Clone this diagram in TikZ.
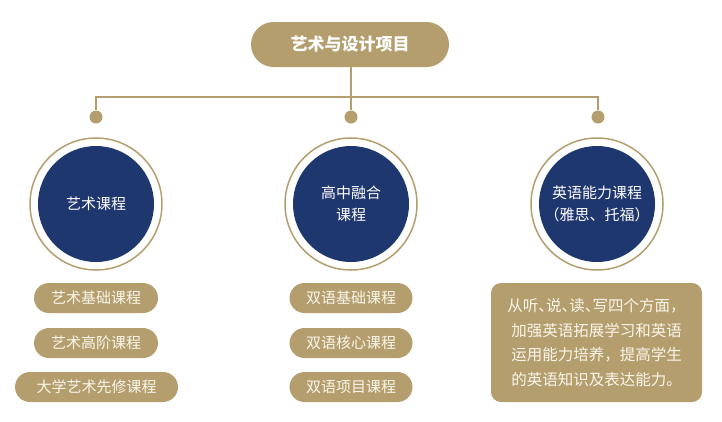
\documentclass[tikz,border=0pt]{standalone}
\usepackage{fontspec}
\setmainfont{Noto Sans CJK SC}
\definecolor{gold}{HTML}{B49E6E}
\definecolor{navy}{HTML}{1F376F}
\definecolor{cream}{HTML}{FBF6EA}
\newcommand{\halfdun}{\makebox[0.5em][l]{、}}

\begin{document}
\begin{tikzpicture}[x=1pt,y=-1pt,
    link/.style={draw=gold,line width=1.5pt},
    joint/.style={circle,fill=gold,inner sep=0pt,minimum size=13pt},
    ring/.style={circle,draw=gold,line width=1.5pt,fill=white,inner sep=0pt,minimum size=132pt},
    disk/.style={circle,fill=navy,text=white,inner sep=0pt,minimum size=116pt,align=center,font=\fontsize{15}{22}\selectfont},
    pill/.style={fill=gold,text=cream,rounded corners=15pt,minimum height=30pt,inner sep=0pt,font=\fontsize{15}{18}\selectfont},
    titlebox/.style={fill=gold,text=white,rounded corners=22.5pt,minimum width=198pt,minimum height=45pt,font=\fontsize{17}{20}\selectfont\bfseries},
    notebox/.style={fill=gold,text=cream,rounded corners=10pt,minimum width=211pt,minimum height=119pt,inner sep=0pt,align=center,font=\fontsize{15.5}{24.5}\selectfont}]
    \useasboundingbox (0,0) rectangle (722,421);

    \node[titlebox] (top) at (350,44.5) {艺术与设计项目};

    % Draw the branch bar and its joints
    \coordinate (bar) at (351,97);
    \node[joint] (jointA) at (96,117) {};
    \node[joint] (jointB) at (351,117) {};
    \node[joint] (jointC) at (598,117) {};
    \draw[link] (top.south -| bar) -- (jointB);
    \draw[link] (jointA) -- (jointA |- bar) -- (jointC |- bar) -- (jointC);

    % Circles for the three course groups
    \node[ring] (ringA) at (96,204) {};
    \node[ring] (ringB) at (351,204) {};
    \node[ring] (ringC) at (597,204) {};
    \node[disk] (artcourse) at (ringA) {艺术课程};
    \node[disk] (highcourse) at (ringB) {高中融合\\课程};
    \node[disk] (engcourse) at (ringC) {英语能力课程\\（雅思、托福）};

    % Add the course lists
    \node[pill,minimum width=124pt] (artA) at (96,298) {艺术基础课程};
    \node[pill,minimum width=124pt] (artB) at (96,343) {艺术高阶课程};
    \node[pill,minimum width=163pt] (artC) at (96.5,387) {大学艺术先修课程};
    \node[pill,minimum width=123pt] (biA) at (351,298) {双语基础课程};
    \node[pill,minimum width=123pt] (biB) at (351,343) {双语核心课程};
    \node[pill,minimum width=123pt] (biC) at (351,387) {双语项目课程};

    \node[notebox] (engnote) at (596.5,342.5) {
    从听\halfdun 说\halfdun 读\halfdun 写四个方面，\\
    加强英语拓展学习和英语\\
    运用能力培养，提高学生\\
    的英语知识及表达能力。
    };
\end{tikzpicture}
\end{document}
